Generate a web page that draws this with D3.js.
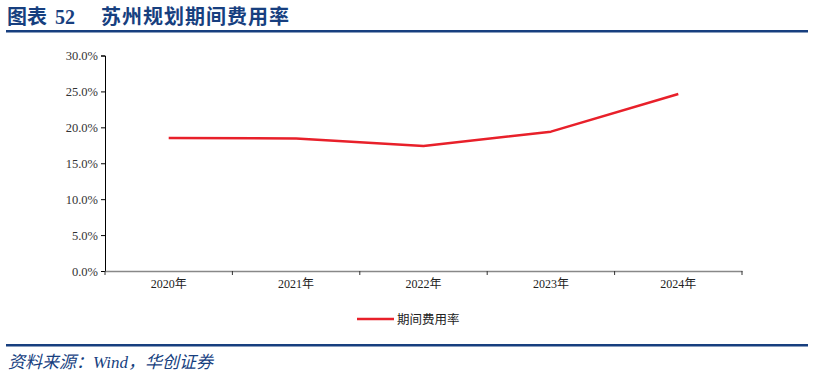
<!DOCTYPE html>
<html>
<head>
<meta charset="utf-8">
<script src="https://cdn.jsdelivr.net/npm/d3@7"></script>
<style>
  body { margin: 0; background: #fff; }
  svg { display: block; }
</style>
</head>
<body>
<div id="chart"></div>
<script>
let w = 814;
let h = 377;

// data
let years = ["2020年", "2021年", "2022年", "2023年", "2024年"];
let rates = [18.5, 18.45, 17.4, 19.4, 24.65];
let yTicks = [0, 5, 10, 15, 20, 25, 30];
let seriesName = "期间费用率";

let blue = "#173f7f";
let red = "#e8202a";

let svg = d3.select("#chart")
  .append("svg")
  .attr("width", w)
  .attr("height", h)
;

let cjk = "'Noto Sans CJK SC', sans-serif";
let serif = "'Liberation Serif', 'Noto Sans CJK SC', serif";

// title + rules
let title = svg.append("text")
  .attr("y", 24)
  .attr("fill", blue)
  .style("font-size", "20px")
  .style("font-weight", "bold");
title.append("tspan").attr("x", 7).style("font-family", cjk).text("图表");
title.append("tspan").attr("x", 55).style("font-family", serif).text("52");
title.append("tspan").attr("x", 101).style("font-family", cjk).style("letter-spacing", "1px").text("苏州规划期间费用率");

svg.append("rect").attr("x", 6).attr("y", 30).attr("width", 802).attr("height", 2.5).attr("fill", blue);
svg.append("rect").attr("x", 6).attr("y", 344).attr("width", 802).attr("height", 2.5).attr("fill", blue);

let src = svg.append("text")
  .attr("x", 8)
  .attr("y", 368)
  .attr("fill", blue)
  .style("font-size", "17px")
  .style("font-style", "italic");
src.append("tspan").style("font-family", cjk).text("资料来源：");
src.append("tspan").style("font-family", serif).text("Wind");
src.append("tspan").style("font-family", cjk).text("，华创证券");

// scales
let x = d3.scaleBand().domain(years).range([105, 742]);
let y = d3.scaleLinear().domain([0, 30]).range([271, 55.5]);

// y axis
let yAxis = d3.axisLeft(y)
  .tickValues(yTicks)
  .tickSize(4)
  .tickFormat(d => d.toFixed(1) + "%");
let yg = svg.append("g").attr("transform", "translate(105,0)").call(yAxis);
yg.select(".domain").attr("stroke", "#000");
yg.selectAll(".tick line").attr("stroke", "#000");
yg.selectAll("text")
  .attr("fill", "#333")
  .style("font-family", serif)
  .style("font-size", "12.5px");

// x axis
let xAxis = d3.axisBottom(x).tickSize(0).tickSizeOuter(0);
let xg = svg.append("g").attr("transform", "translate(0,271)").call(xAxis);
xg.select(".domain").attr("stroke", "#888").attr("stroke-width", 1.5);
xg.selectAll("text")
  .attr("dy", "1.15em")
  .attr("fill", "#222")
  .style("font-family", serif)
  .style("font-size", "12px");
// boundary ticks between categories
let bounds = years.map(d => x(d)).concat([x.range()[1]]);
svg.selectAll(".bt").data(bounds).enter()
  .append("line")
  .attr("class", "bt")
  .attr("x1", d => d).attr("x2", d => d)
  .attr("y1", 271).attr("y2", 275)
  .attr("stroke", "#333");

// line
let line = d3.line()
  .x((d, i) => x(years[i]) + x.bandwidth() / 2)
  .y(d => y(d));

svg.append("path")
  .datum(rates)
  .attr("d", line)
  .attr("fill", "none")
  .attr("stroke", red)
  .attr("stroke-width", 2.5)
  .attr("stroke-linejoin", "round");

// legend
svg.append("line")
  .attr("x1", 357).attr("x2", 394)
  .attr("y1", 319).attr("y2", 319)
  .attr("stroke", red)
  .attr("stroke-width", 2.5);
svg.append("text")
  .attr("x", 397)
  .attr("y", 323.5)
  .attr("fill", "#222")
  .style("font-family", cjk)
  .style("font-size", "12.5px")
  .text(seriesName);
</script>
</body>
</html>
